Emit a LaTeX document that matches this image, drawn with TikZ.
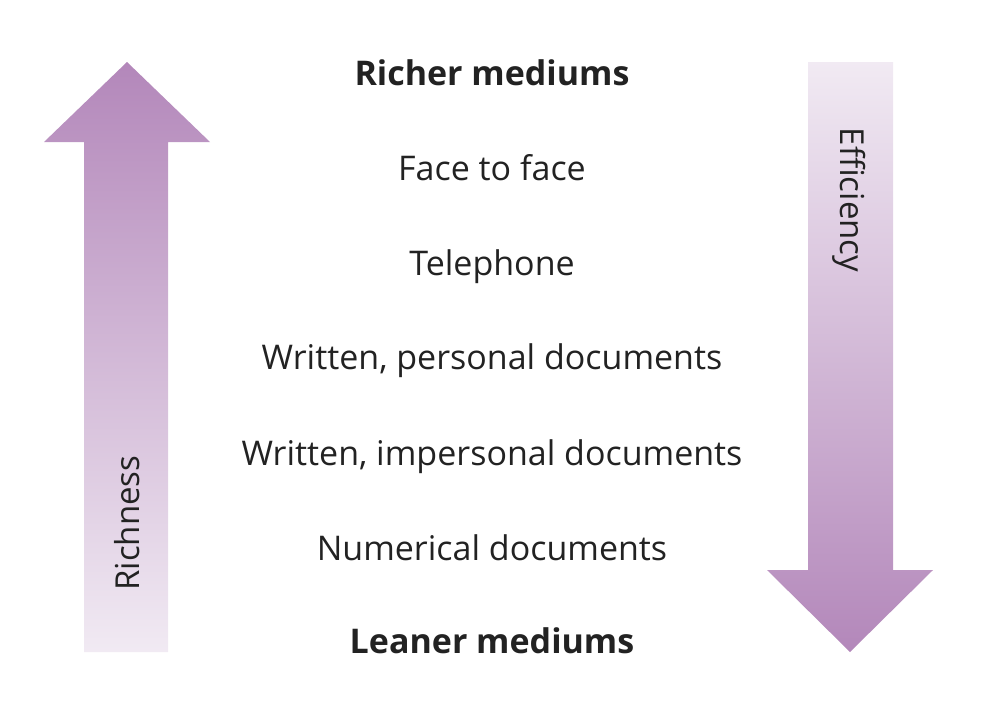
\documentclass[tikz,border=0pt]{standalone}
\usepackage{fontspec}
\setmainfont{Open Sans}
\definecolor{darkpurple}{HTML}{B387BA}
\definecolor{lightpurple}{HTML}{F1EAF3}
\definecolor{txt}{HTML}{222222}
\tikzset{
  item/.style={text=txt, font=\fontsize{34}{39}\selectfont, anchor=base, inner sep=0pt},
  heading/.style={item, font=\fontsize{34}{39}\selectfont\bfseries},
  axislabel/.style={text=txt, font=\fontsize{33}{37}\selectfont, inner sep=0pt}
}
\begin{document}
\begin{tikzpicture}[x=1pt,y=-1pt]
\useasboundingbox (0,0) rectangle (989,716);
% left arrow (up): dark at top
\shade[top color=darkpurple, bottom color=lightpurple]
  (84,652) -- (84,142) -- (44,142) -- (127,62) -- (210,142) -- (168,142) -- (168,652) -- cycle;
% right arrow (down): dark at bottom
\shade[top color=lightpurple, bottom color=darkpurple]
  (808,62) -- (893,62) -- (893,570) -- (933,570) -- (850,652) -- (767,570) -- (808,570) -- cycle;
\node[axislabel, rotate=90] (rich) at (127,523) {Richness};
\node[axislabel, rotate=-90] (eff) at (849,200) {Efficiency};
\node[heading] (h1) at (492,85) {Richer mediums};
\node[item] (f2f) at (492,180) {Face to face};
\node[item] (tel) at (492,275) {Telephone};
\node[item] (wpd) at (492,369) {Written, personal documents};
\node[item] (wid) at (492,465) {Written, impersonal documents};
\node[item] (num) at (492,560) {Numerical documents};
\node[heading] (h2) at (492,653) {Leaner mediums};
\end{tikzpicture}
\end{document}
